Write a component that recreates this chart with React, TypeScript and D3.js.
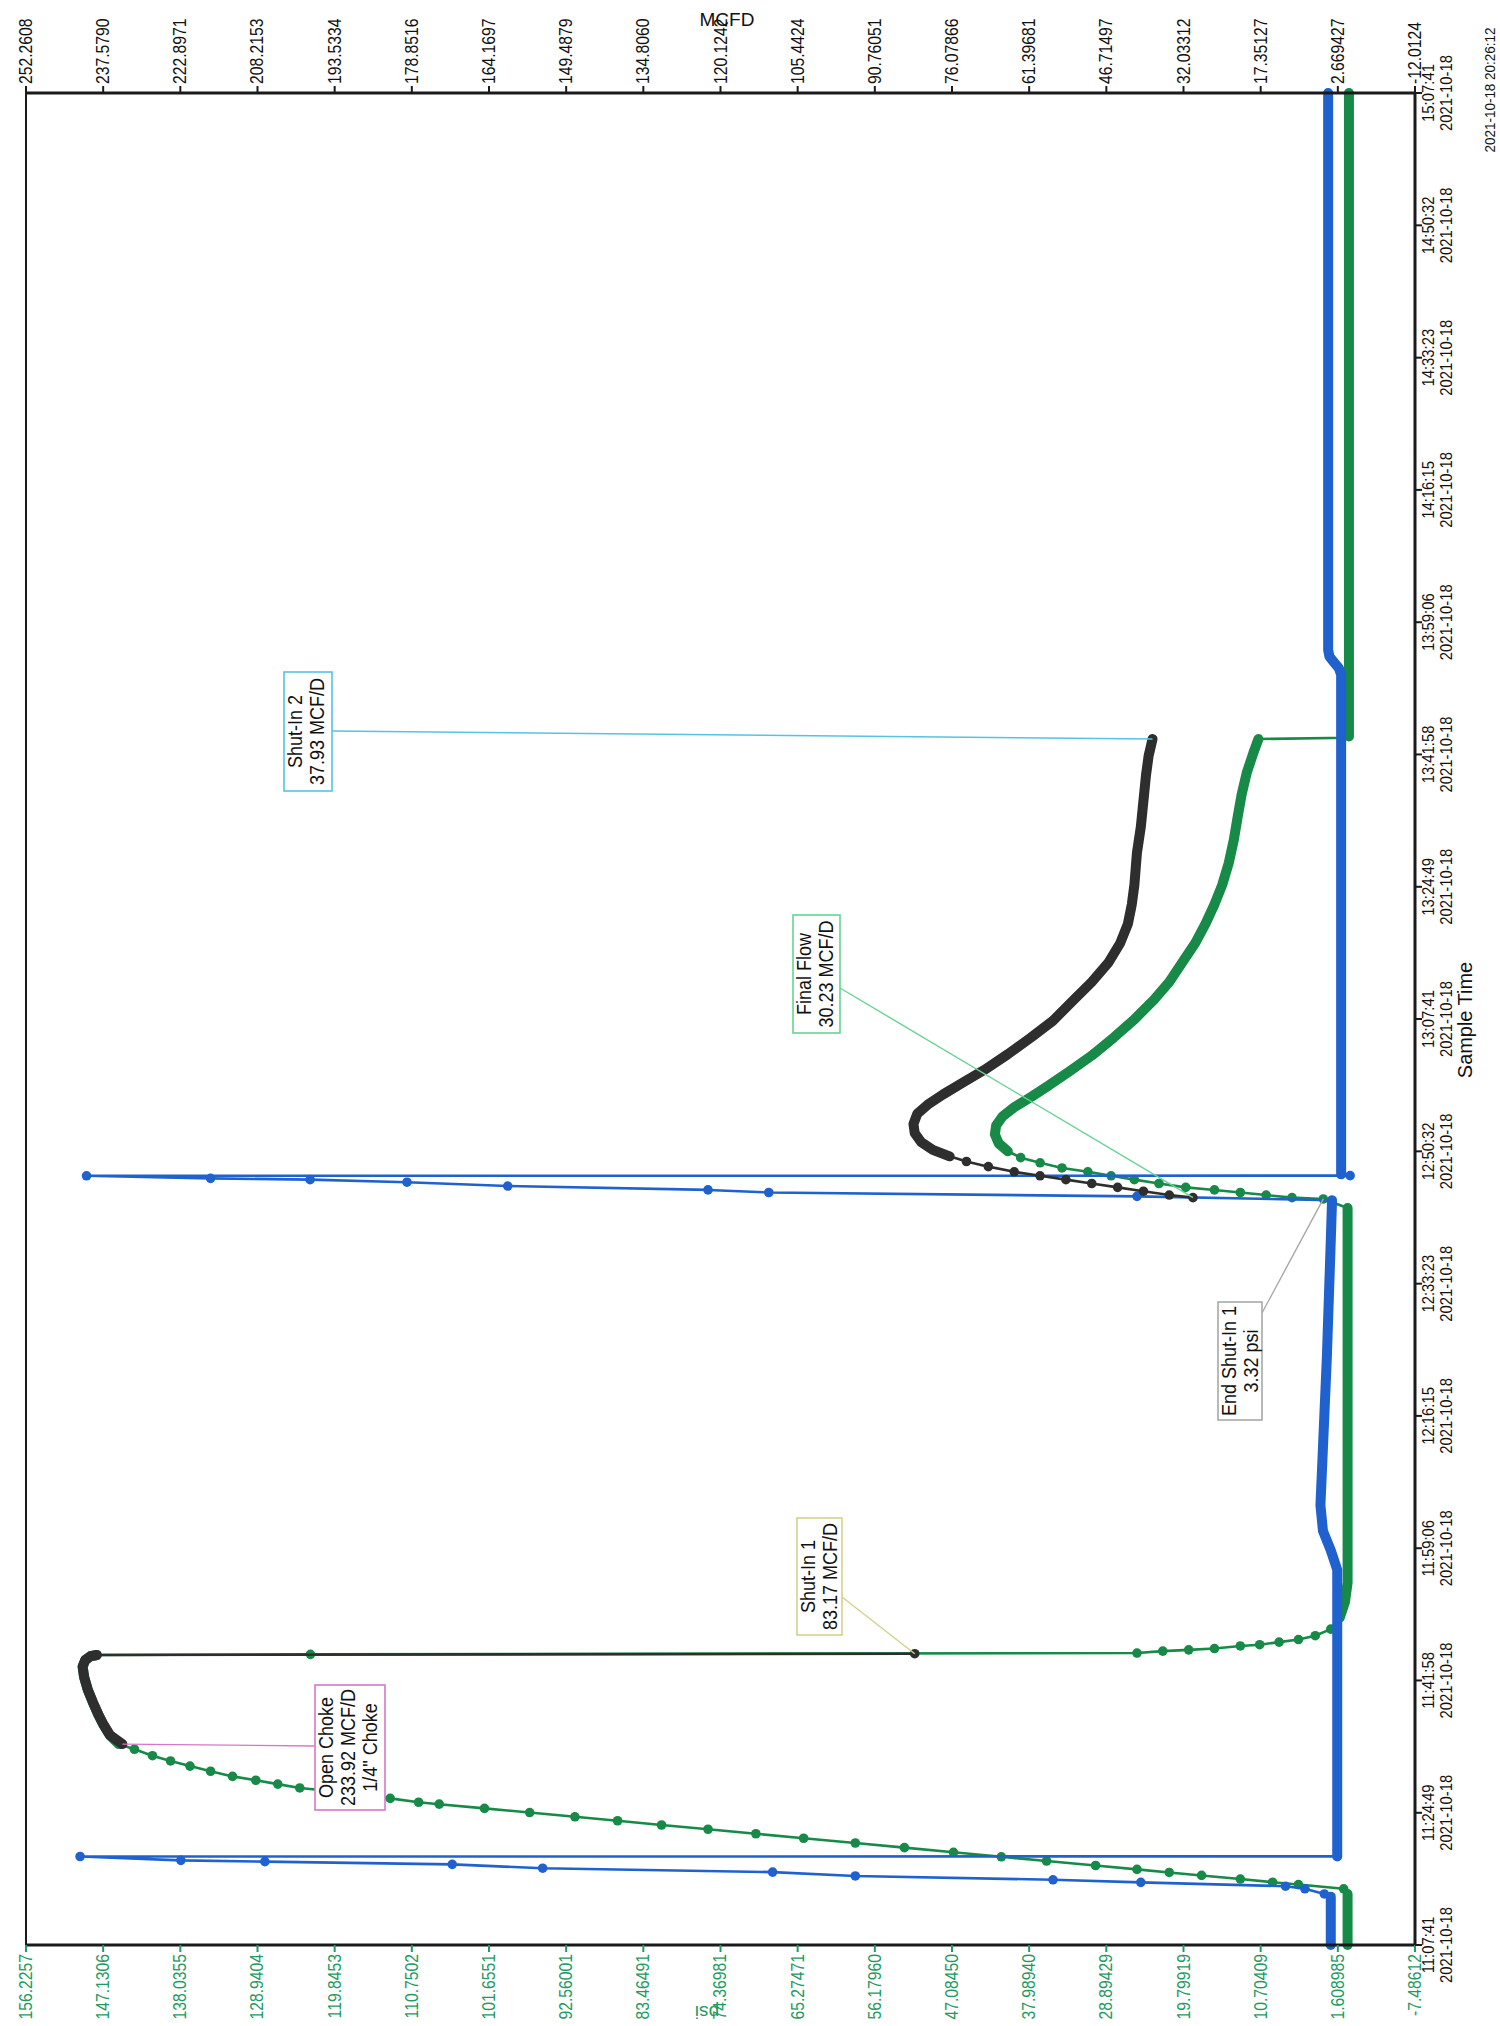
import React from "react";
import * as d3 from "d3";

// ---------------- data ----------------
const DATE_LABEL = "2021-10-18";
const PRINT_STAMP = "2021-10-18 20:26:12";
const timeTicks = ["11:07:41","11:24:49","11:41:58","11:59:06","12:16:15","12:33:23","12:50:32","13:07:41","13:24:49","13:41:58","13:59:06","14:16:15","14:33:23","14:50:32","15:07:41"];
const mcfdTicks = ["252.2608","237.5790","222.8971","208.2153","193.5334","178.8516","164.1697","149.4879","134.8060","120.1242","105.4424","90.76051","76.07866","61.39681","46.71497","32.03312","17.35127","2.669427","-12.0124"];
const psiTicks = ["156.2257","147.1306","138.0355","128.9404","119.8453","110.7502","101.6551","92.56001","83.46491","74.36981","65.27471","56.17960","47.08450","37.98940","28.89429","19.79919","10.70409","1.608985","-7.48612"];

// [time, value, kind]  kind: 0 = sampled point (dot), 1 = dense samples, 2 = plain vertex
const greenPsi: [string, number, number][] = [
  ["11:07:41", 0.46, 1], ["11:14:18", 0.46, 1],
  ["11:14:58", 0.92, 0], ["11:15:31", 6.25, 0], ["11:15:49", 9.30, 0], ["11:16:14", 13.10, 0],
  ["11:16:42", 17.67, 0], ["11:17:05", 21.48, 0], ["11:17:29", 25.28, 0], ["11:17:59", 30.16, 0],
  ["11:18:34", 35.94, 0], ["11:19:07", 41.27, 0], ["11:19:42", 46.91, 0], ["11:20:18", 52.69, 0],
  ["11:20:54", 58.48, 0], ["11:21:31", 64.57, 0], ["11:22:06", 70.20, 0], ["11:22:41", 75.84, 0],
  ["11:23:14", 81.32, 0], ["11:23:47", 86.50, 0], ["11:24:18", 91.53, 0], ["11:24:51", 96.86, 0],
  ["11:25:23", 102.19, 0], ["11:25:56", 107.52, 0], ["11:26:11", 109.95, 0], ["11:26:41", 113.30, 0],
  ["11:27:11", 116.65, 0], ["11:27:36", 120.00, 0], ["11:28:02", 123.96, 0], ["11:28:32", 126.55, 0],
  ["11:29:02", 129.14, 0], ["11:29:32", 131.88, 0], ["11:30:12", 134.47, 0], ["11:30:52", 136.90, 0],
  ["11:31:32", 139.19, 0], ["11:32:13", 141.32, 0], ["11:33:03", 143.45, 0], ["11:33:43", 145.28, 1],
  ["11:34:53", 146.35, 1], ["11:36:14", 147.11, 1], ["11:37:34", 147.72, 1], ["11:39:05", 148.33, 1],
  ["11:40:45", 148.94, 1], ["11:42:25", 149.39, 1], ["11:43:46", 149.54, 1], ["11:44:36", 149.24, 1],
  ["11:45:06", 148.63, 1], ["11:45:16", 147.87, 1], ["11:45:21", 122.70, 0], ["11:45:31", 25.28, 0],
  ["11:45:46", 22.24, 0], ["11:45:56", 19.19, 0], ["11:46:06", 16.15, 0], ["11:46:26", 13.10, 0],
  ["11:46:36", 10.82, 0], ["11:46:56", 8.53, 0], ["11:47:16", 6.25, 0], ["11:47:46", 4.27, 0],
  ["11:48:37", 2.44, 0], ["11:50:07", 1.38, 1], ["11:52:08", 0.77, 1], ["11:54:38", 0.46, 1],
  ["12:43:11", 0.46, 1], ["12:44:22", 3.32, 0], ["12:44:32", 7.01, 0], ["12:44:52", 10.06, 0],
  ["12:45:12", 13.10, 0], ["12:45:32", 16.15, 0], ["12:45:52", 19.54, 0], ["12:46:22", 22.69, 0],
  ["12:46:52", 25.59, 0], ["12:47:22", 28.33, 0], ["12:47:53", 31.07, 0], ["12:48:23", 34.12, 0],
  ["12:49:03", 36.70, 0], ["12:49:43", 38.99, 0], ["12:50:33", 40.51, 1], ["12:51:34", 41.58, 1],
  ["12:52:44", 42.03, 1], ["12:53:54", 41.88, 1], ["12:55:04", 41.12, 1], ["12:56:15", 39.75, 1],
  ["12:57:35", 37.77, 1], ["12:59:06", 35.64, 1], ["13:00:56", 33.20, 1], ["13:02:57", 30.61, 1],
  ["13:05:17", 28.02, 1], ["13:07:38", 25.59, 1], ["13:10:09", 23.31, 1], ["13:12:29", 21.48, 1],
  ["13:15:00", 19.95, 1], ["13:17:30", 18.43, 1], ["13:20:01", 17.21, 1], ["13:22:32", 16.15, 1],
  ["13:25:03", 15.24, 1], ["13:27:53", 14.47, 1], ["13:30:54", 13.87, 1], ["13:33:55", 13.41, 1],
  ["13:36:46", 12.95, 1], ["13:39:37", 12.34, 1], ["13:42:07", 11.58, 1], ["13:43:58", 10.97, 1],
  ["13:44:08", 0.30, 2], ["13:44:18", 0.30, 1], ["15:07:41", 0.30, 1],
];

const bluePsi: [string, number, number][] = [
  ["11:07:41", 2.44, 1], ["11:13:57", 2.44, 1],
  ["11:14:18", 3.20, 0], ["11:14:58", 5.49, 0], ["11:15:18", 7.77, 0], ["11:15:48", 24.83, 0],
  ["11:16:08", 35.18, 0], ["11:16:38", 58.48, 0], ["11:17:08", 68.23, 0], ["11:17:38", 95.33, 0],
  ["11:18:08", 105.99, 0], ["11:18:29", 128.07, 0], ["11:18:39", 137.97, 0], ["11:19:09", 149.85, 0],
  ["11:19:10", 1.68, 1], ["11:56:19", 1.68, 1], ["11:58:49", 2.44, 1], ["12:01:20", 3.36, 1],
  ["12:04:41", 3.66, 1], ["12:12:13", 3.36, 1], ["12:23:56", 2.90, 1], ["12:39:00", 2.44, 1],
  ["12:44:12", 2.29, 1], ["12:44:42", 25.28, 0], ["12:45:12", 68.68, 0], ["12:45:32", 75.84, 0],
  ["12:46:02", 99.45, 0], ["12:46:32", 111.32, 0], ["12:46:52", 122.74, 0], ["12:47:02", 134.47, 0],
  ["12:47:22", 149.09, 0], ["12:47:23", 0.16, 0], ["12:47:33", 1.22, 1], ["13:52:20", 1.22, 1],
  ["13:53:10", 1.50, 1], ["13:54:00", 2.14, 1], ["13:54:40", 2.60, 1], ["13:55:30", 2.75, 1],
  ["15:07:41", 2.75, 1],
];

const blackFlow1: [string, number, number][] = [
  ["11:33:43", 233.92, 1], ["11:34:53", 236.3, 1], ["11:36:14", 237.5, 1], ["11:37:34", 238.5, 1],
  ["11:39:05", 239.5, 1], ["11:40:45", 240.5, 1], ["11:42:25", 241.2, 1], ["11:43:46", 241.5, 1],
  ["11:44:36", 241.0, 1], ["11:45:06", 240.0, 1], ["11:45:16", 238.8, 1], ["11:45:26", 83.17, 0],
];

const blackFlow2: [string, number, number][] = [
  ["12:44:32", 30.23, 0], ["12:44:52", 34.74, 0], ["12:45:22", 39.66, 0], ["12:45:52", 44.57, 0],
  ["12:46:22", 49.49, 0], ["12:46:52", 54.41, 0], ["12:47:22", 59.33, 0], ["12:47:53", 64.24, 0],
  ["12:48:33", 69.16, 0], ["12:49:13", 73.33, 0], ["12:49:53", 76.53, 1], ["12:50:43", 79.73, 1],
  ["12:51:44", 81.94, 1], ["12:52:54", 83.17, 1], ["12:54:04", 83.41, 1], ["12:55:25", 82.68, 1],
  ["12:56:35", 80.71, 1], ["12:57:55", 77.76, 1], ["12:59:26", 74.07, 1], ["13:01:06", 69.89, 1],
  ["13:03:07", 65.47, 1], ["13:05:17", 61.05, 1], ["13:07:28", 56.87, 1], ["13:09:59", 53.18, 1],
  ["13:12:29", 49.49, 1], ["13:15:00", 46.30, 1], ["13:17:30", 44.09, 1], ["13:20:01", 42.61, 1],
  ["13:22:32", 41.87, 1], ["13:25:03", 41.38, 1], ["13:29:14", 40.89, 1], ["13:32:35", 40.15, 1],
  ["13:35:56", 39.66, 1], ["13:39:16", 39.17, 1], ["13:41:47", 38.67, 1], ["13:43:58", 37.93, 1],
];

const noteLabels: string[][] = [
  ["Shut-In 2", "37.93 MCF/D"],
  ["Final Flow", "30.23 MCF/D"],
  ["Shut-In 1", "83.17 MCF/D"],
  ["Open Choke", "233.92 MCF/D", "1/4\" Choke"],
  ["End Shut-In 1", "3.32 psi"],
];
// anchor points of the notes: [axis, time, value]
const noteTargets: [string, string, number][] = [
  ["mcfd", "13:43:58", 37.93],
  ["mcfd", "12:44:32", 30.23],
  ["mcfd", "11:45:26", 83.17],
  ["mcfd", "11:33:43", 233.92],
  ["psi", "12:44:22", 3.32],
];

// ---------------- layout / style ----------------
const W = 1500, H = 2026;
const L = 26, R = 1415, T = 93, B = 1945;
const FONT = "'Liberation Sans', Arial, Helvetica, sans-serif";
const C_GREEN = "#168a46";
const C_GREEN_TXT = "#1f9a62";
const C_BLUE = "#1f62cf";
const C_BLACK = "#2e2e2e";
const noteLayout = [
  { box: [284, 672, 332, 791], from: [332, 731], color: "#55c4e2" },
  { box: [793, 915, 840, 1033], from: [840, 988], color: "#66d494" },
  { box: [797, 1518, 842, 1635], from: [842, 1597], color: "#d2d28c" },
  { box: [315, 1685, 385, 1810], from: [315, 1746], color: "#d877c8" },
  { box: [1218, 1302, 1262, 1420], from: [1262, 1313], color: "#a8a8a8" },
];

const secOf = (s: string) => {
  const [h, m, x] = s.split(":").map(Number);
  return h * 3600 + m * 60 + x;
};

const yT = d3.scaleLinear().domain([secOf(timeTicks[0]), secOf(timeTicks[timeTicks.length - 1])]).range([B, T]);
const xM = d3.scaleLinear().domain([+mcfdTicks[0], +mcfdTicks[mcfdTicks.length - 1]]).range([L, R]);
const xP = d3.scaleLinear().domain([+psiTicks[0], +psiTicks[psiTicks.length - 1]]).range([L, R]);

function RotText(props: { x: number; y: number; text: string; size: number; anchor: string; fill?: string; sx?: number }) {
  const { x, y, text, size, anchor, fill = "#111", sx = 0.9 } = props;
  return (
    <text transform={`translate(${x},${y}) rotate(-90) scale(${sx},1)`} fontSize={size} textAnchor={anchor}
      fill={fill} fontFamily={FONT}>{text}</text>
  );
}

function Series(props: { data: [string, number, number][]; x: (v: number) => number; color: string }) {
  const { data, x, color } = props;
  const pts = data.map((d) => [x(d[1]), yT(secOf(d[0])), d[2]] as [number, number, number]);
  const line = d3.line<[number, number, number]>().x((p) => p[0]).y((p) => p[1]);
  const runs: [number, number, number][][] = [];
  let cur: [number, number, number][] = [];
  pts.forEach((p) => {
    if (p[2] === 1) cur.push(p);
    else {
      if (cur.length) runs.push(cur);
      cur = [];
    }
  });
  if (cur.length) runs.push(cur);
  return (
    <g>
      <path d={line(pts) || ""} fill="none" stroke={color} strokeWidth={2.6} strokeLinejoin="round" />
      {runs.map((run, i) => (
        <path key={i} d={line(run) || ""} fill="none" stroke={color} strokeWidth={10} strokeLinecap="round" strokeLinejoin="round" />
      ))}
      {pts.filter((p) => p[2] === 0).map((p, i) => (
        <circle key={i} cx={p[0]} cy={p[1]} r={4.8} fill={color} />
      ))}
    </g>
  );
}

export default function App() {
  return (
    <svg width={W} height={H} viewBox={`0 0 ${W} ${H}`} style={{ position: "absolute", left: 0, top: 0, background: "#fff" }}>
      <rect x={0} y={0} width={W} height={H} fill="#fff" />

      {/* series */}
      <Series data={greenPsi} x={xP} color={C_GREEN} />
      <Series data={bluePsi} x={xP} color={C_BLUE} />
      <Series data={blackFlow1} x={xM} color={C_BLACK} />
      <Series data={blackFlow2} x={xM} color={C_BLACK} />

      {/* notes */}
      {noteLabels.map((lines, i) => {
        const lay = noteLayout[i];
        const tg = noteTargets[i];
        const tx = (tg[0] === "mcfd" ? xM : xP)(tg[2]);
        const ty = yT(secOf(tg[1]));
        const [x0, y0, x1, y1] = lay.box;
        const cy = (y0 + y1) / 2;
        return (
          <g key={i}>
            <line x1={lay.from[0]} y1={lay.from[1]} x2={tx} y2={ty} stroke={lay.color} strokeWidth={1.4} />
            <rect x={x0} y={y0} width={x1 - x0} height={y1 - y0} fill="#fff" stroke={lay.color} strokeWidth={1.6} />
            {lines.map((s, j) => (
              <RotText key={j} x={x0 + 18 + j * 22} y={cy} text={s} size={20} anchor="middle" />
            ))}
          </g>
        );
      })}

      {/* frame */}
      <rect x={L} y={T} width={R - L} height={B - T} fill="none" stroke="#1a1a1a" strokeWidth={2} />
      <line x1={L - 1} y1={T} x2={R + 1} y2={T} stroke="#1a1a1a" strokeWidth={3} />
      <line x1={L - 1} y1={B} x2={R + 1} y2={B} stroke="#1a1a1a" strokeWidth={3} />
      <line x1={R} y1={T - 1} x2={R} y2={B + 1} stroke="#1a1a1a" strokeWidth={3} />

      {/* top MCFD axis */}
      {mcfdTicks.map((t, i) => {
        const x = xM(+t);
        return (
          <g key={i}>
            <line x1={x} y1={T} x2={x} y2={T - 7} stroke="#1a1a1a" strokeWidth={2} />
            <RotText x={x + 6} y={T - 9} text={t} size={17.5} anchor="start" />
          </g>
        );
      })}
      <text x={727} y={26} fontSize={19} textAnchor="middle" fontFamily={FONT} fill="#111">MCFD</text>

      {/* bottom psi axis */}
      {psiTicks.map((t, i) => {
        const x = xP(+t);
        return (
          <g key={i}>
            <line x1={x} y1={B} x2={x} y2={B + 7} stroke={C_GREEN_TXT} strokeWidth={2} />
            <RotText x={x + 6} y={B + 9} text={t} size={17.5} anchor="end" fill={C_GREEN_TXT} />
          </g>
        );
      })}
      <text transform={`translate(707,2006) rotate(180)`} fontSize={19} textAnchor="middle" fontFamily={FONT} fill={C_GREEN_TXT}>psi</text>

      {/* right time axis */}
      {timeTicks.map((t, i) => {
        const y = yT(secOf(t));
        return (
          <g key={i}>
            <line x1={R} y1={y} x2={R + 7} y2={y} stroke="#1a1a1a" strokeWidth={2} />
            <RotText x={R + 19} y={y} text={t} size={16.5} anchor="middle" />
            <RotText x={R + 37} y={y} text={DATE_LABEL} size={16.5} anchor="middle" />
          </g>
        );
      })}
      <RotText x={1472} y={1020} text="Sample Time" size={21} anchor="middle" sx={0.95} />
      <RotText x={1495} y={90} text={PRINT_STAMP} size={15} anchor="middle" />
    </svg>
  );
}
